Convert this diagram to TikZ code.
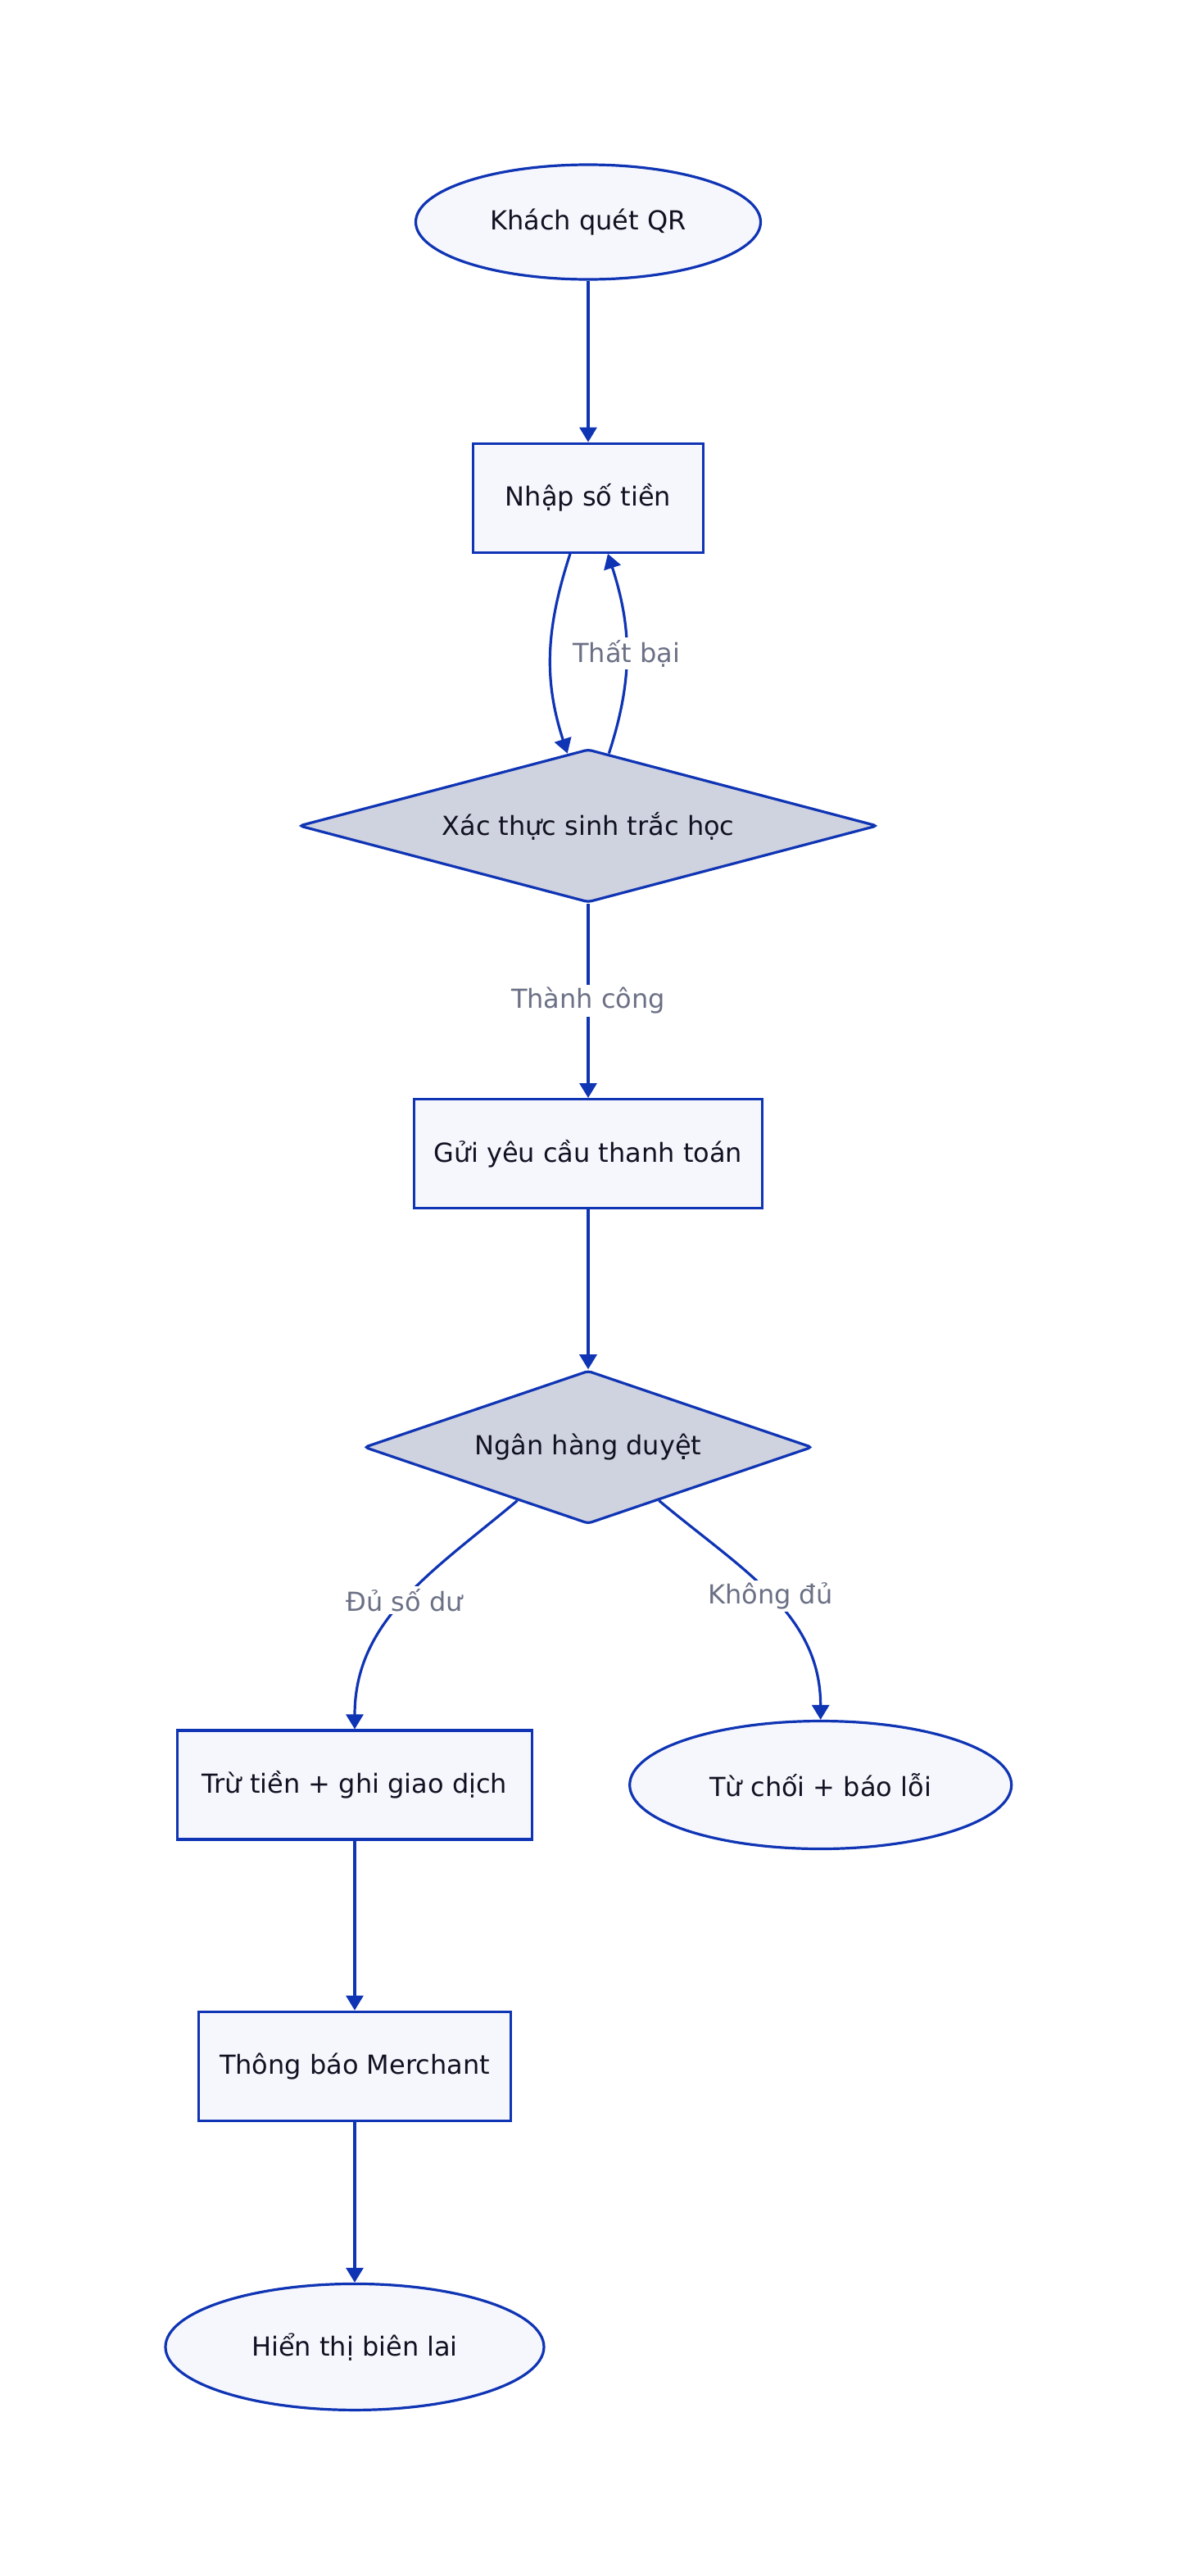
\documentclass[tikz,border=0pt]{standalone}
\usepackage{fontspec}
\setmainfont{DejaVu Sans}
\definecolor{FlowBlue}{RGB}{15, 52, 180}
\definecolor{BoxFill}{RGB}{246, 247, 252}
\definecolor{DecFill}{RGB}{207, 210, 223}
\definecolor{LabelGray}{RGB}{107, 112, 133}
\definecolor{InkDark}{RGB}{17, 17, 34}
\usetikzlibrary{arrows.meta, positioning, shapes.geometric}

\begin{document}
\begin{tikzpicture}[
        node distance=98.5pt,
        font=\fontsize{16pt}{19pt}\selectfont,
        box/.style={rectangle, draw=FlowBlue, line width=1.6pt, fill=BoxFill, text=InkDark, minimum height=66.5pt, align=center},
        terminal/.style={ellipse, draw=FlowBlue, line width=1.6pt, fill=BoxFill, text=InkDark, inner sep=0pt},
        decision/.style={diamond, draw=FlowBlue, line width=1.6pt, fill=DecFill, text=InkDark, rounded corners=2pt, inner sep=0pt, minimum height=93.5pt, align=center},
        arrow/.style={-{Triangle[length=9pt, width=10.5pt]}, draw=FlowBlue, line width=1.6pt},
        edgelabel/.style={fill=white, text=LabelGray, inner sep=1.5pt}
    ]
    \useasboundingbox (-359pt,135.5pt) rectangle (360pt,-1436.5pt);
    \node[terminal, minimum width=210.5pt, minimum height=70pt] (scan) {Khách quét QR};
    \node[box, minimum width=140.5pt, below=of scan] (amount) {Nhập số tiền};
    \node[decision, aspect=3.78, minimum width=353pt, below=118.5pt of amount] (bio) {Xác thực sinh trắc học};
    \node[box, minimum width=212.5pt, below=118.5pt of bio] (pay) {Gửi yêu cầu thanh toán};
    \node[decision, aspect=2.93, minimum width=273.5pt, below=97.5pt of pay] (bank) {Ngân hàng duyệt};
    \node[box, minimum width=216.5pt, below=124.5pt of bank, xshift=-142.5pt] (debit) {Trừ tiền + ghi giao dịch};
    \node[terminal, minimum width=233pt, minimum height=78pt, right=58pt of debit] (refuse) {Từ chối + báo lỗi};
    \node[box, minimum width=190.5pt, below=103.5pt of debit] (notify) {Thông báo Merchant};
    \node[terminal, minimum width=231pt, minimum height=77pt, below=98pt of notify] (receipt) {Hiển thị biên lai};
    \draw[arrow] (scan) -- (amount);
    \draw[arrow] ([xshift=-11pt]amount.south) to[out=-108, in=108] (bio.106);
    \draw[arrow] (bio.74) to[out=72, in=-72] node[edgelabel] {Thất bại} ([xshift=12pt]amount.south);
    \draw[arrow] (bio) -- node[edgelabel] {Thành công} (pay);
    \draw[arrow] (pay) -- (bank);
    \draw[arrow] (bank.217) to[out=-140, in=90] node[edgelabel] {Đủ số dư} (debit.north);
    \draw[arrow] (bank.323) to[out=-40, in=90] node[edgelabel] {Không đủ} (refuse.north);
    \draw[arrow] (debit) -- (notify);
    \draw[arrow] (notify) -- (receipt);
\end{tikzpicture}
\end{document}
